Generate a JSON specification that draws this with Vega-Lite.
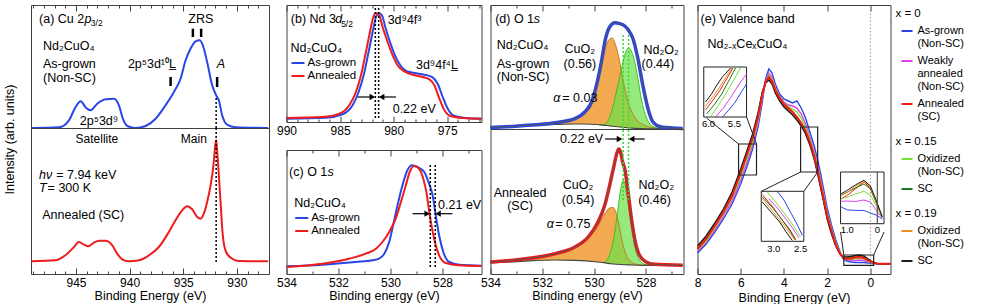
{
"$schema":"https://vega.github.io/schema/vega-lite/v6.json",
"padding":{"left":2,"top":3,"right":0,"bottom":0},
"background":"white",
"config":{
 "font":"Liberation Sans",
 "view":{"stroke":"#404040","strokeWidth":1},
 "axis":{"grid":false,"domain":false,"labelFontSize":12,"titleFontSize":12.5,"titleFontWeight":"normal","labelColor":"#000","titleColor":"#000","tickColor":"#404040","labelFlush":false,"labelOverlap":false,"labelPadding":9.5,"titlePadding":-2.5},
 "legend":{"titleFontWeight":"normal","labelColor":"#000","titleColor":"#000"},
 "text":{"color":"#000"}
},
"spacing":2.5,
"resolve":{"scale":{"x":"independent","y":"independent","color":"independent"}},
"datasets":{
 "aTop":[{"e":949.17,"i":0},{"e":946.59,"i":0.7},{"e":945.66,"i":7.7},{"e":945.04,"i":21},{"e":944.57,"i":26.7},{"e":944.05,"i":20},{"e":943.64,"i":17.7},{"e":943.02,"i":24.3},{"e":942.24,"i":28.7},{"e":941.46,"i":29.3},{"e":941.0,"i":22.7},{"e":940.63,"i":9.3},{"e":940.22,"i":2},{"e":939.44,"i":0},{"e":938.51,"i":2},{"e":937.58,"i":9.3},{"e":936.65,"i":22.7},{"e":935.87,"i":36},{"e":935.25,"i":49.3},{"e":934.78,"i":67.7},{"e":934.32,"i":79.3},{"e":933.85,"i":86.7},{"e":933.48,"i":87.7},{"e":933.17,"i":82.7},{"e":932.77,"i":66},{"e":932.30,"i":42.7},{"e":931.93,"i":32.7},{"e":931.68,"i":27.7},{"e":931.37,"i":12.7},{"e":930.91,"i":3.3},{"e":930.12,"i":0.7},{"e":927.08,"i":0}],
 "aBot":[{"e":949.17,"i":12.7},{"e":946.90,"i":13.7},{"e":945.82,"i":20.3},{"e":945.19,"i":27},{"e":944.73,"i":32},{"e":944.26,"i":29.3},{"e":943.86,"i":27.7},{"e":943.33,"i":31.3},{"e":942.86,"i":33.3},{"e":942.24,"i":33.3},{"e":941.62,"i":28.7},{"e":941.16,"i":20.3},{"e":940.69,"i":14.7},{"e":940.07,"i":12.7},{"e":939.13,"i":13.7},{"e":938.20,"i":18.7},{"e":937.27,"i":27},{"e":936.34,"i":42},{"e":935.72,"i":53.7},{"e":935.10,"i":63.7},{"e":934.63,"i":67.7},{"e":934.17,"i":64.7},{"e":933.70,"i":57},{"e":933.39,"i":55.3},{"e":933.08,"i":60.3},{"e":932.77,"i":72},{"e":932.45,"i":88.7},{"e":932.15,"i":112},{"e":932.05,"i":125},{"e":931.93,"i":134},{"e":931.80,"i":118},{"e":931.52,"i":72},{"e":931.31,"i":38.7},{"e":931.0,"i":22},{"e":930.44,"i":15.3},{"e":929.82,"i":13},{"e":927.08,"i":12.7}],
 "aTopL":[{"e":948.45,"i":109,"t":"(a) Cu 2"},{"e":948.08,"i":82,"t":"Nd₂CuO₄"},{"e":948.08,"i":64,"t":"As-grown"},{"e":948.08,"i":50,"t":"(Non-SC)"}],
 "aTopI":[{"e":944.2,"i":109,"t":"p"}],
 "aTopS":[{"e":943.62,"i":105,"t":"3/2"}],
 "aTopC":[{"e":933.36,"i":109,"t":"ZRS"},{"e":942.86,"i":7,"t":"2p⁵3d⁹"},{"e":937.92,"i":64,"t":"2p⁵3d¹⁰L̲"}],
 "aTopCI":[{"e":931.49,"i":64,"t":"A"}],
 "aTopBars":[{"e":934.10,"i":91,"i2":99.3},{"e":933.33,"i":91,"i2":99.3},{"e":936.18,"i":42,"i2":51},{"e":931.84,"i":41,"i2":51}],
 "aTopDot":[{"e":931.93,"i":0,"i2":31}],
 "aBotC":[{"e":943.05,"i":135,"t":"Satellite"},{"e":934.01,"i":135,"t":"Main"}],
 "aBotL":[{"e":946.85,"i":98.7,"t":"= 7.94 keV"},{"e":947.65,"i":85.7,"t":"= 300 K"},{"e":948.15,"i":59.3,"t":"Annealed (SC)"}],
 "aBotI":[{"e":948.45,"i":98.7,"t":"hν"},{"e":948.45,"i":85.7,"t":"T"}],
 "aBotDot":[{"e":931.93,"i":12,"i2":146}],
 "bLines":[{"s":"As-grown","e":990.0,"i":3.3},{"s":"As-grown","e":986.33,"i":4.3},{"s":"As-grown","e":984.77,"i":7.7},{"s":"As-grown","e":983.83,"i":16.7},{"s":"As-grown","e":983.27,"i":30},{"s":"As-grown","e":982.80,"i":46.7},{"s":"As-grown","e":982.34,"i":70},{"s":"As-grown","e":981.96,"i":90},{"s":"As-grown","e":981.65,"i":105},{"s":"As-grown","e":981.40,"i":109},{"s":"As-grown","e":981.09,"i":106.7},{"s":"As-grown","e":980.78,"i":95},{"s":"As-grown","e":980.34,"i":80},{"s":"As-grown","e":979.88,"i":66.7},{"s":"As-grown","e":979.38,"i":56.7},{"s":"As-grown","e":978.85,"i":51},{"s":"As-grown","e":978.07,"i":49},{"s":"As-grown","e":977.13,"i":47.3},{"s":"As-grown","e":976.36,"i":44.7},{"s":"As-grown","e":975.89,"i":38.3},{"s":"As-grown","e":975.42,"i":25},{"s":"As-grown","e":974.95,"i":13.3},{"s":"As-grown","e":974.33,"i":6},{"s":"As-grown","e":973.24,"i":4},{"s":"As-grown","e":971.8,"i":3.3},
  {"s":"Annealed","e":990.0,"i":4},{"s":"Annealed","e":986.64,"i":5},{"s":"Annealed","e":985.08,"i":8.3},{"s":"Annealed","e":984.14,"i":16.7},{"s":"Annealed","e":983.52,"i":30},{"s":"Annealed","e":983.05,"i":46.7},{"s":"Annealed","e":982.59,"i":70},{"s":"Annealed","e":982.21,"i":90},{"s":"Annealed","e":981.90,"i":105},{"s":"Annealed","e":981.65,"i":109},{"s":"Annealed","e":981.34,"i":106.7},{"s":"Annealed","e":981.03,"i":95},{"s":"Annealed","e":980.56,"i":80},{"s":"Annealed","e":980.09,"i":66.7},{"s":"Annealed","e":979.63,"i":56.7},{"s":"Annealed","e":979.0,"i":50.7},{"s":"Annealed","e":978.22,"i":47.3},{"s":"Annealed","e":977.29,"i":45},{"s":"Annealed","e":976.66,"i":42.7},{"s":"Annealed","e":976.20,"i":36.7},{"s":"Annealed","e":975.73,"i":23.3},{"s":"Annealed","e":975.26,"i":11.7},{"s":"Annealed","e":974.64,"i":5.7},{"s":"Annealed","e":973.55,"i":4},{"s":"Annealed","e":971.8,"i":3.3}],
 "bL":[{"e":989.6,"i":103.3,"t":"(b) Nd 3"},{"e":980.56,"i":102,"t":"3d⁹4f³"},{"e":977.92,"i":57,"t":"3d⁹4f⁴L̲"},{"e":980.09,"i":13,"t":"0.22 eV"}],
 "bI":[{"e":985.45,"i":103.3,"t":"d"}],
 "bS":[{"e":984.9,"i":98.5,"t":"5/2"}],
 "bDash":[{"e":981.71,"i":4,"i2":117},{"e":981.40,"i":4,"i2":117}],
 "bShaft":[{"e":983.36,"e2":981.99,"i":25},{"e":979.79,"e2":981.12,"i":25}],
 "bHeadR":[{"e":981.99,"i":25}],
 "bHeadL":[{"e":981.12,"i":25}],
 "cLines":[{"s":"As-grown","e":534.0,"i":7.7},{"s":"As-grown","e":532.62,"i":9.3},{"s":"As-grown","e":531.34,"i":12},{"s":"As-grown","e":530.69,"i":13.7},{"s":"As-grown","e":530.44,"i":15.3},{"s":"As-grown","e":530.24,"i":20.3},{"s":"As-grown","e":530.05,"i":32},{"s":"As-grown","e":529.90,"i":48.7},{"s":"As-grown","e":529.73,"i":68.7},{"s":"As-grown","e":529.54,"i":88.7},{"s":"As-grown","e":529.35,"i":103.7},{"s":"As-grown","e":529.18,"i":108.7},{"s":"As-grown","e":528.96,"i":107},{"s":"As-grown","e":528.70,"i":102},{"s":"As-grown","e":528.54,"i":92},{"s":"As-grown","e":528.38,"i":78.7},{"s":"As-grown","e":528.26,"i":58.7},{"s":"As-grown","e":528.13,"i":38.7},{"s":"As-grown","e":527.97,"i":22},{"s":"As-grown","e":527.74,"i":12},{"s":"As-grown","e":527.36,"i":9.3},{"s":"As-grown","e":526.5,"i":8.3},
  {"s":"Annealed","e":534.0,"i":7},{"s":"Annealed","e":532.62,"i":10.3},{"s":"Annealed","e":531.59,"i":15.3},{"s":"Annealed","e":530.95,"i":20.3},{"s":"Annealed","e":530.56,"i":25.3},{"s":"Annealed","e":530.31,"i":32},{"s":"Annealed","e":530.05,"i":42},{"s":"Annealed","e":529.80,"i":55.3},{"s":"Annealed","e":529.60,"i":72},{"s":"Annealed","e":529.41,"i":88.7},{"s":"Annealed","e":529.26,"i":102},{"s":"Annealed","e":529.09,"i":108},{"s":"Annealed","e":528.90,"i":105.3},{"s":"Annealed","e":528.74,"i":95.3},{"s":"Annealed","e":528.62,"i":82},{"s":"Annealed","e":528.49,"i":58.7},{"s":"Annealed","e":528.32,"i":35.3},{"s":"Annealed","e":528.13,"i":18.7},{"s":"Annealed","e":527.87,"i":11},{"s":"Annealed","e":527.36,"i":8.7},{"s":"Annealed","e":526.5,"i":8}],
 "cL":[{"e":533.9,"i":102,"t":"(c) O 1"},{"e":528.17,"i":69.3,"t":"0.21 eV"}],
 "cI":[{"e":532.42,"i":102,"t":"s"}],
 "cDash":[{"e":528.47,"i":7,"i2":110},{"e":528.28,"i":7,"i2":110}],
 "cShaft":[{"e":529.15,"e2":528.59,"i":60.3},{"e":527.62,"e2":528.17,"i":60.3}],
 "cHeadR":[{"e":528.59,"i":60.3}],
 "cHeadL":[{"e":528.17,"i":60.3}],
 "dTopEnv":[{"e":534.01,"i":1.5},{"e":532.80,"i":3.2},{"e":531.51,"i":6.3},{"e":530.74,"i":10.3},{"e":530.36,"i":17},{"e":530.10,"i":27},{"e":529.91,"i":43.7},{"e":529.72,"i":67},{"e":529.56,"i":90.3},{"e":529.40,"i":102},{"e":529.20,"i":106.3},{"e":529.01,"i":105.3},{"e":528.82,"i":103},{"e":528.67,"i":98.7},{"e":528.50,"i":90.3},{"e":528.31,"i":70.3},{"e":528.12,"i":43.7},{"e":527.92,"i":20.3},{"e":527.73,"i":7},{"e":527.41,"i":2},{"e":526.58,"i":0.5}],
 "dTopBg":[{"e":534.01,"i":1.5},{"e":532.80,"i":3},{"e":531.51,"i":4.5},{"e":530.87,"i":5},{"e":530.36,"i":5},{"e":529.91,"i":4.5},{"e":529.53,"i":3.5},{"e":529.20,"i":2.5},{"e":528.82,"i":1.5},{"e":528.44,"i":0.7},{"e":527.92,"i":0.2},{"e":526.58,"i":0}],
 "dTopCu":[{"e":534.01,"i":1.6,"b":1.5},{"e":532.80,"i":3.2,"b":3},{"e":531.51,"i":5.5,"b":4.5},{"e":530.74,"i":9.5,"b":5},{"e":530.36,"i":16,"b":5},{"e":530.10,"i":26,"b":4.8},{"e":529.91,"i":42,"b":4.5},{"e":529.72,"i":64,"b":4.1},{"e":529.56,"i":82,"b":3.6},{"e":529.40,"i":90,"b":3.1},{"e":529.30,"i":91,"b":2.8},{"e":529.20,"i":86,"b":2.5},{"e":529.05,"i":72,"b":2.1},{"e":528.88,"i":48,"b":1.6},{"e":528.69,"i":27,"b":1.2},{"e":528.44,"i":12,"b":0.7},{"e":528.05,"i":3.7,"b":0.3},{"e":527.67,"i":1,"b":0.1},{"e":527.3,"i":0.2,"b":0}],
 "dTopNd":[{"e":529.80,"i":3.9,"b":3.8},{"e":529.59,"i":4.5,"b":3.6},{"e":529.33,"i":17,"b":2.8},{"e":529.14,"i":37,"b":2.4},{"e":528.97,"i":57,"b":1.9},{"e":528.82,"i":73.7,"b":1.5},{"e":528.67,"i":81,"b":1.2},{"e":528.50,"i":73.7,"b":0.9},{"e":528.33,"i":53.7,"b":0.6},{"e":528.18,"i":30.3,"b":0.4},{"e":527.99,"i":12,"b":0.2},{"e":527.80,"i":3.7,"b":0.1},{"e":527.54,"i":1,"b":0},{"e":527.2,"i":0.1,"b":0}],
 "dTopL":[{"e":533.82,"i":110.3,"t":"(d) O 1"},{"e":533.76,"i":83.7,"t":"Nd₂CuO₄"},{"e":533.76,"i":65,"t":"As-grown"},{"e":533.76,"i":52,"t":"(Non-SC)"},{"e":531.23,"i":31,"t":"= 0.03"}],
 "dTopI":[{"e":532.33,"i":110.3,"t":"s"},{"e":531.58,"i":31,"t":"α"}],
 "dTopC":[{"e":530.55,"i":80.3,"t":"CuO₂"},{"e":530.55,"i":65.3,"t":"(0.56)"},{"e":527.41,"i":79,"t":"Nd₂O₂"},{"e":527.54,"i":65.3,"t":"(0.44)"}],
 "dTopDot":[{"e":528.88,"i":0,"i2":94},{"e":528.67,"i":0,"i2":94}],
 "dBotEnv":[{"e":534.01,"i":12},{"e":532.80,"i":14.7},{"e":531.51,"i":20.3},{"e":530.74,"i":27},{"e":530.23,"i":37},{"e":529.85,"i":52},{"e":529.59,"i":68.7},{"e":529.40,"i":88.7},{"e":529.23,"i":108.7},{"e":529.13,"i":120},{"e":529.05,"i":125},{"e":528.97,"i":121},{"e":528.90,"i":112},{"e":528.82,"i":105.3},{"e":528.69,"i":82},{"e":528.56,"i":55.3},{"e":528.41,"i":32},{"e":528.25,"i":18.7},{"e":527.99,"i":12},{"e":527.67,"i":9.7},{"e":526.58,"i":8.7}],
 "dBotBg":[{"e":534.01,"i":11},{"e":532.80,"i":12.7},{"e":531.51,"i":14},{"e":530.74,"i":13.7},{"e":529.85,"i":12},{"e":529.27,"i":10},{"e":528.56,"i":9},{"e":528.0,"i":8.7},{"e":526.58,"i":8.7}],
 "dBotCu":[{"e":534.01,"i":11.2,"b":11},{"e":532.80,"i":14,"b":12.7},{"e":531.51,"i":19.5,"b":14},{"e":530.74,"i":26,"b":13.7},{"e":530.23,"i":35,"b":13},{"e":529.85,"i":48,"b":12},{"e":529.59,"i":60,"b":11.2},{"e":529.40,"i":66,"b":10.6},{"e":529.27,"i":66.5,"b":10},{"e":529.14,"i":60.3,"b":9.8},{"e":529.01,"i":45.3,"b":9.6},{"e":528.88,"i":28.7,"b":9.3},{"e":528.69,"i":15.3,"b":9},{"e":528.44,"i":10.3,"b":8.8},{"e":528.05,"i":8.7,"b":8.7}],
 "dBotNd":[{"e":529.59,"i":11.5,"b":11.2},{"e":529.33,"i":25.3,"b":10.4},{"e":529.20,"i":42,"b":10},{"e":529.08,"i":65.3,"b":9.7},{"e":528.97,"i":85.3,"b":9.5},{"e":528.88,"i":93.7,"b":9.3},{"e":528.80,"i":88.7,"b":9.1},{"e":528.69,"i":72,"b":9},{"e":528.56,"i":48.7,"b":8.9},{"e":528.44,"i":28.7,"b":8.8},{"e":528.28,"i":15.3,"b":8.7},{"e":528.05,"i":9.7,"b":8.7},{"e":527.67,"i":8.7,"b":8.7}],
 "dBotR":[{"e":529.65,"i":135,"t":"0.22 eV"}],
 "dBotC":[{"e":532.86,"i":81,"t":"Annealed"},{"e":532.86,"i":68,"t":"(SC)"},{"e":530.62,"i":88.7,"t":"CuO₂"},{"e":530.62,"i":73.7,"t":"(0.54)"},{"e":527.6,"i":88.7,"t":"Nd₂O₂"},{"e":527.67,"i":73.7,"t":"(0.46)"}],
 "dBotL":[{"e":531.5,"i":50.3,"t":"= 0.75"}],
 "dBotI":[{"e":531.83,"i":50.3,"t":"α"}],
 "dBotDot":[{"e":528.88,"i":74,"i2":145},{"e":528.67,"i":74,"i2":145}],
 "dBotShaft":[{"e":529.58,"e2":529.02,"i":135},{"e":528.05,"e2":528.55,"i":135}],
 "dBotHeadR":[{"e":529.02,"i":135}],
 "dBotHeadL":[{"e":528.55,"i":135}],
 "eMain":[
  {"x":"0","s":"As-grown (Non-SC)","e":8,"i":21},{"x":"0","s":"As-grown (Non-SC)","e":7.6,"i":30},{"x":"0","s":"As-grown (Non-SC)","e":7.2,"i":42},{"x":"0","s":"As-grown (Non-SC)","e":6.8,"i":55},{"x":"0","s":"As-grown (Non-SC)","e":6.4,"i":70},{"x":"0","s":"As-grown (Non-SC)","e":6,"i":90},{"x":"0","s":"As-grown (Non-SC)","e":5.7,"i":108},{"x":"0","s":"As-grown (Non-SC)","e":5.45,"i":125},{"x":"0","s":"As-grown (Non-SC)","e":5.2,"i":147},{"x":"0","s":"As-grown (Non-SC)","e":5,"i":172},{"x":"0","s":"As-grown (Non-SC)","e":4.85,"i":195},{"x":"0","s":"As-grown (Non-SC)","e":4.7,"i":205},{"x":"0","s":"As-grown (Non-SC)","e":4.55,"i":201},{"x":"0","s":"As-grown (Non-SC)","e":4.4,"i":190},{"x":"0","s":"As-grown (Non-SC)","e":4.2,"i":180},{"x":"0","s":"As-grown (Non-SC)","e":4,"i":175},{"x":"0","s":"As-grown (Non-SC)","e":3.8,"i":173},{"x":"0","s":"As-grown (Non-SC)","e":3.6,"i":171},{"x":"0","s":"As-grown (Non-SC)","e":3.4,"i":173},{"x":"0","s":"As-grown (Non-SC)","e":3.2,"i":166},{"x":"0","s":"As-grown (Non-SC)","e":3,"i":156},{"x":"0","s":"As-grown (Non-SC)","e":2.8,"i":142},{"x":"0","s":"As-grown (Non-SC)","e":2.6,"i":128},{"x":"0","s":"As-grown (Non-SC)","e":2.45,"i":115},{"x":"0","s":"As-grown (Non-SC)","e":2.3,"i":100},{"x":"0","s":"As-grown (Non-SC)","e":2.15,"i":83},{"x":"0","s":"As-grown (Non-SC)","e":2,"i":66},{"x":"0","s":"As-grown (Non-SC)","e":1.8,"i":49},{"x":"0","s":"As-grown (Non-SC)","e":1.6,"i":34},{"x":"0","s":"As-grown (Non-SC)","e":1.4,"i":22},{"x":"0","s":"As-grown (Non-SC)","e":1.25,"i":15},{"x":"0","s":"As-grown (Non-SC)","e":1.1,"i":13},{"x":"0","s":"As-grown (Non-SC)","e":0.9,"i":12},{"x":"0","s":"As-grown (Non-SC)","e":0.7,"i":11.5},{"x":"0","s":"As-grown (Non-SC)","e":0.5,"i":11.5},{"x":"0","s":"As-grown (Non-SC)","e":0.3,"i":11.5},{"x":"0","s":"As-grown (Non-SC)","e":0.1,"i":11},{"x":"0","s":"As-grown (Non-SC)","e":-0.1,"i":10.5},{"x":"0","s":"As-grown (Non-SC)","e":-0.3,"i":10.3},{"x":"0","s":"As-grown (Non-SC)","e":-0.6,"i":10.3},{"x":"0","s":"As-grown (Non-SC)","e":-0.93,"i":10.3},
  {"x":"0","s":"Weakly annealed (Non-SC)","e":8,"i":23},{"x":"0","s":"Weakly annealed (Non-SC)","e":7.6,"i":32},{"x":"0","s":"Weakly annealed (Non-SC)","e":7.2,"i":44},{"x":"0","s":"Weakly annealed (Non-SC)","e":6.8,"i":58},{"x":"0","s":"Weakly annealed (Non-SC)","e":6.4,"i":73},{"x":"0","s":"Weakly annealed (Non-SC)","e":6,"i":94},{"x":"0","s":"Weakly annealed (Non-SC)","e":5.7,"i":112},{"x":"0","s":"Weakly annealed (Non-SC)","e":5.45,"i":129},{"x":"0","s":"Weakly annealed (Non-SC)","e":5.2,"i":151},{"x":"0","s":"Weakly annealed (Non-SC)","e":5,"i":175},{"x":"0","s":"Weakly annealed (Non-SC)","e":4.85,"i":193},{"x":"0","s":"Weakly annealed (Non-SC)","e":4.7,"i":201},{"x":"0","s":"Weakly annealed (Non-SC)","e":4.55,"i":197},{"x":"0","s":"Weakly annealed (Non-SC)","e":4.4,"i":187},{"x":"0","s":"Weakly annealed (Non-SC)","e":4.2,"i":178},{"x":"0","s":"Weakly annealed (Non-SC)","e":4,"i":172},{"x":"0","s":"Weakly annealed (Non-SC)","e":3.8,"i":169},{"x":"0","s":"Weakly annealed (Non-SC)","e":3.6,"i":168},{"x":"0","s":"Weakly annealed (Non-SC)","e":3.4,"i":166},{"x":"0","s":"Weakly annealed (Non-SC)","e":3.2,"i":160},{"x":"0","s":"Weakly annealed (Non-SC)","e":3,"i":150},{"x":"0","s":"Weakly annealed (Non-SC)","e":2.8,"i":137},{"x":"0","s":"Weakly annealed (Non-SC)","e":2.6,"i":123},{"x":"0","s":"Weakly annealed (Non-SC)","e":2.45,"i":110},{"x":"0","s":"Weakly annealed (Non-SC)","e":2.3,"i":95},{"x":"0","s":"Weakly annealed (Non-SC)","e":2.15,"i":79},{"x":"0","s":"Weakly annealed (Non-SC)","e":2,"i":62},{"x":"0","s":"Weakly annealed (Non-SC)","e":1.8,"i":46},{"x":"0","s":"Weakly annealed (Non-SC)","e":1.6,"i":31},{"x":"0","s":"Weakly annealed (Non-SC)","e":1.4,"i":21},{"x":"0","s":"Weakly annealed (Non-SC)","e":1.25,"i":15.5},{"x":"0","s":"Weakly annealed (Non-SC)","e":1.1,"i":14},{"x":"0","s":"Weakly annealed (Non-SC)","e":0.9,"i":13.5},{"x":"0","s":"Weakly annealed (Non-SC)","e":0.7,"i":13.5},{"x":"0","s":"Weakly annealed (Non-SC)","e":0.5,"i":14},{"x":"0","s":"Weakly annealed (Non-SC)","e":0.3,"i":13.5},{"x":"0","s":"Weakly annealed (Non-SC)","e":0.1,"i":12},{"x":"0","s":"Weakly annealed (Non-SC)","e":-0.1,"i":11},{"x":"0","s":"Weakly annealed (Non-SC)","e":-0.3,"i":10.5},{"x":"0","s":"Weakly annealed (Non-SC)","e":-0.6,"i":10.3},{"x":"0","s":"Weakly annealed (Non-SC)","e":-0.93,"i":10.3},
  {"x":"0","s":"Annealed (SC)","e":8,"i":25},{"x":"0","s":"Annealed (SC)","e":7.6,"i":35},{"x":"0","s":"Annealed (SC)","e":7.2,"i":48},{"x":"0","s":"Annealed (SC)","e":6.8,"i":62},{"x":"0","s":"Annealed (SC)","e":6.4,"i":78},{"x":"0","s":"Annealed (SC)","e":6,"i":101},{"x":"0","s":"Annealed (SC)","e":5.7,"i":120},{"x":"0","s":"Annealed (SC)","e":5.45,"i":136},{"x":"0","s":"Annealed (SC)","e":5.2,"i":157},{"x":"0","s":"Annealed (SC)","e":5,"i":180},{"x":"0","s":"Annealed (SC)","e":4.85,"i":192},{"x":"0","s":"Annealed (SC)","e":4.7,"i":197},{"x":"0","s":"Annealed (SC)","e":4.55,"i":193},{"x":"0","s":"Annealed (SC)","e":4.4,"i":184},{"x":"0","s":"Annealed (SC)","e":4.2,"i":176},{"x":"0","s":"Annealed (SC)","e":4,"i":170},{"x":"0","s":"Annealed (SC)","e":3.8,"i":166},{"x":"0","s":"Annealed (SC)","e":3.6,"i":162},{"x":"0","s":"Annealed (SC)","e":3.4,"i":157},{"x":"0","s":"Annealed (SC)","e":3.2,"i":151},{"x":"0","s":"Annealed (SC)","e":3,"i":143},{"x":"0","s":"Annealed (SC)","e":2.8,"i":132},{"x":"0","s":"Annealed (SC)","e":2.6,"i":118},{"x":"0","s":"Annealed (SC)","e":2.45,"i":104},{"x":"0","s":"Annealed (SC)","e":2.3,"i":89},{"x":"0","s":"Annealed (SC)","e":2.15,"i":74},{"x":"0","s":"Annealed (SC)","e":2,"i":58},{"x":"0","s":"Annealed (SC)","e":1.8,"i":43},{"x":"0","s":"Annealed (SC)","e":1.6,"i":29},{"x":"0","s":"Annealed (SC)","e":1.4,"i":20},{"x":"0","s":"Annealed (SC)","e":1.25,"i":16},{"x":"0","s":"Annealed (SC)","e":1.1,"i":15},{"x":"0","s":"Annealed (SC)","e":0.9,"i":15.5},{"x":"0","s":"Annealed (SC)","e":0.7,"i":16.5},{"x":"0","s":"Annealed (SC)","e":0.5,"i":17},{"x":"0","s":"Annealed (SC)","e":0.3,"i":16},{"x":"0","s":"Annealed (SC)","e":0.1,"i":13.5},{"x":"0","s":"Annealed (SC)","e":-0.1,"i":11.5},{"x":"0","s":"Annealed (SC)","e":-0.3,"i":10.5},{"x":"0","s":"Annealed (SC)","e":-0.6,"i":10.3},{"x":"0","s":"Annealed (SC)","e":-0.93,"i":10.3},
  {"x":"0.15","s":"Oxidized (Non-SC)","e":8,"i":24},{"x":"0.15","s":"Oxidized (Non-SC)","e":7.6,"i":33},{"x":"0.15","s":"Oxidized (Non-SC)","e":7.2,"i":46},{"x":"0.15","s":"Oxidized (Non-SC)","e":6.8,"i":60},{"x":"0.15","s":"Oxidized (Non-SC)","e":6.4,"i":76},{"x":"0.15","s":"Oxidized (Non-SC)","e":6,"i":97},{"x":"0.15","s":"Oxidized (Non-SC)","e":5.7,"i":116},{"x":"0.15","s":"Oxidized (Non-SC)","e":5.45,"i":132},{"x":"0.15","s":"Oxidized (Non-SC)","e":5.2,"i":154},{"x":"0.15","s":"Oxidized (Non-SC)","e":5,"i":178},{"x":"0.15","s":"Oxidized (Non-SC)","e":4.85,"i":192},{"x":"0.15","s":"Oxidized (Non-SC)","e":4.7,"i":199},{"x":"0.15","s":"Oxidized (Non-SC)","e":4.55,"i":195},{"x":"0.15","s":"Oxidized (Non-SC)","e":4.4,"i":186},{"x":"0.15","s":"Oxidized (Non-SC)","e":4.2,"i":177},{"x":"0.15","s":"Oxidized (Non-SC)","e":4,"i":171},{"x":"0.15","s":"Oxidized (Non-SC)","e":3.8,"i":167},{"x":"0.15","s":"Oxidized (Non-SC)","e":3.6,"i":165},{"x":"0.15","s":"Oxidized (Non-SC)","e":3.4,"i":162},{"x":"0.15","s":"Oxidized (Non-SC)","e":3.2,"i":156},{"x":"0.15","s":"Oxidized (Non-SC)","e":3,"i":147},{"x":"0.15","s":"Oxidized (Non-SC)","e":2.8,"i":135},{"x":"0.15","s":"Oxidized (Non-SC)","e":2.6,"i":121},{"x":"0.15","s":"Oxidized (Non-SC)","e":2.45,"i":107},{"x":"0.15","s":"Oxidized (Non-SC)","e":2.3,"i":92},{"x":"0.15","s":"Oxidized (Non-SC)","e":2.15,"i":77},{"x":"0.15","s":"Oxidized (Non-SC)","e":2,"i":61},{"x":"0.15","s":"Oxidized (Non-SC)","e":1.8,"i":45},{"x":"0.15","s":"Oxidized (Non-SC)","e":1.6,"i":31},{"x":"0.15","s":"Oxidized (Non-SC)","e":1.4,"i":21},{"x":"0.15","s":"Oxidized (Non-SC)","e":1.25,"i":16},{"x":"0.15","s":"Oxidized (Non-SC)","e":1.1,"i":14.5},{"x":"0.15","s":"Oxidized (Non-SC)","e":0.9,"i":14.5},{"x":"0.15","s":"Oxidized (Non-SC)","e":0.7,"i":15.5},{"x":"0.15","s":"Oxidized (Non-SC)","e":0.5,"i":16},{"x":"0.15","s":"Oxidized (Non-SC)","e":0.3,"i":15},{"x":"0.15","s":"Oxidized (Non-SC)","e":0.1,"i":12.5},{"x":"0.15","s":"Oxidized (Non-SC)","e":-0.1,"i":11},{"x":"0.15","s":"Oxidized (Non-SC)","e":-0.3,"i":10.4},{"x":"0.15","s":"Oxidized (Non-SC)","e":-0.6,"i":10.3},{"x":"0.15","s":"Oxidized (Non-SC)","e":-0.93,"i":10.3},
  {"x":"0.15","s":"SC","e":8,"i":26},{"x":"0.15","s":"SC","e":7.6,"i":36},{"x":"0.15","s":"SC","e":7.2,"i":49},{"x":"0.15","s":"SC","e":6.8,"i":63},{"x":"0.15","s":"SC","e":6.4,"i":80},{"x":"0.15","s":"SC","e":6,"i":103},{"x":"0.15","s":"SC","e":5.7,"i":122},{"x":"0.15","s":"SC","e":5.45,"i":138},{"x":"0.15","s":"SC","e":5.2,"i":159},{"x":"0.15","s":"SC","e":5,"i":181},{"x":"0.15","s":"SC","e":4.85,"i":192},{"x":"0.15","s":"SC","e":4.7,"i":196},{"x":"0.15","s":"SC","e":4.55,"i":192},{"x":"0.15","s":"SC","e":4.4,"i":183},{"x":"0.15","s":"SC","e":4.2,"i":175},{"x":"0.15","s":"SC","e":4,"i":169},{"x":"0.15","s":"SC","e":3.8,"i":165},{"x":"0.15","s":"SC","e":3.6,"i":161},{"x":"0.15","s":"SC","e":3.4,"i":156},{"x":"0.15","s":"SC","e":3.2,"i":150},{"x":"0.15","s":"SC","e":3,"i":142},{"x":"0.15","s":"SC","e":2.8,"i":131},{"x":"0.15","s":"SC","e":2.6,"i":117},{"x":"0.15","s":"SC","e":2.45,"i":103},{"x":"0.15","s":"SC","e":2.3,"i":88},{"x":"0.15","s":"SC","e":2.15,"i":73},{"x":"0.15","s":"SC","e":2,"i":57},{"x":"0.15","s":"SC","e":1.8,"i":42},{"x":"0.15","s":"SC","e":1.6,"i":29},{"x":"0.15","s":"SC","e":1.4,"i":20},{"x":"0.15","s":"SC","e":1.25,"i":16.5},{"x":"0.15","s":"SC","e":1.1,"i":16},{"x":"0.15","s":"SC","e":0.9,"i":16.5},{"x":"0.15","s":"SC","e":0.7,"i":17.5},{"x":"0.15","s":"SC","e":0.5,"i":18},{"x":"0.15","s":"SC","e":0.3,"i":17},{"x":"0.15","s":"SC","e":0.1,"i":14},{"x":"0.15","s":"SC","e":-0.1,"i":11.5},{"x":"0.15","s":"SC","e":-0.3,"i":10.5},{"x":"0.15","s":"SC","e":-0.6,"i":10.3},{"x":"0.15","s":"SC","e":-0.93,"i":10.3},
  {"x":"0.19","s":"Oxidized (Non-SC)","e":8,"i":27},{"x":"0.19","s":"Oxidized (Non-SC)","e":7.6,"i":37},{"x":"0.19","s":"Oxidized (Non-SC)","e":7.2,"i":50},{"x":"0.19","s":"Oxidized (Non-SC)","e":6.8,"i":64},{"x":"0.19","s":"Oxidized (Non-SC)","e":6.4,"i":81},{"x":"0.19","s":"Oxidized (Non-SC)","e":6,"i":104},{"x":"0.19","s":"Oxidized (Non-SC)","e":5.7,"i":123},{"x":"0.19","s":"Oxidized (Non-SC)","e":5.45,"i":139},{"x":"0.19","s":"Oxidized (Non-SC)","e":5.2,"i":160},{"x":"0.19","s":"Oxidized (Non-SC)","e":5,"i":181},{"x":"0.19","s":"Oxidized (Non-SC)","e":4.85,"i":191},{"x":"0.19","s":"Oxidized (Non-SC)","e":4.7,"i":195},{"x":"0.19","s":"Oxidized (Non-SC)","e":4.55,"i":191},{"x":"0.19","s":"Oxidized (Non-SC)","e":4.4,"i":182},{"x":"0.19","s":"Oxidized (Non-SC)","e":4.2,"i":174},{"x":"0.19","s":"Oxidized (Non-SC)","e":4,"i":168},{"x":"0.19","s":"Oxidized (Non-SC)","e":3.8,"i":164},{"x":"0.19","s":"Oxidized (Non-SC)","e":3.6,"i":160},{"x":"0.19","s":"Oxidized (Non-SC)","e":3.4,"i":155},{"x":"0.19","s":"Oxidized (Non-SC)","e":3.2,"i":149},{"x":"0.19","s":"Oxidized (Non-SC)","e":3,"i":141},{"x":"0.19","s":"Oxidized (Non-SC)","e":2.8,"i":130},{"x":"0.19","s":"Oxidized (Non-SC)","e":2.6,"i":116},{"x":"0.19","s":"Oxidized (Non-SC)","e":2.45,"i":102},{"x":"0.19","s":"Oxidized (Non-SC)","e":2.3,"i":87},{"x":"0.19","s":"Oxidized (Non-SC)","e":2.15,"i":72},{"x":"0.19","s":"Oxidized (Non-SC)","e":2,"i":56},{"x":"0.19","s":"Oxidized (Non-SC)","e":1.8,"i":41},{"x":"0.19","s":"Oxidized (Non-SC)","e":1.6,"i":28},{"x":"0.19","s":"Oxidized (Non-SC)","e":1.4,"i":20},{"x":"0.19","s":"Oxidized (Non-SC)","e":1.25,"i":17},{"x":"0.19","s":"Oxidized (Non-SC)","e":1.1,"i":16.5},{"x":"0.19","s":"Oxidized (Non-SC)","e":0.9,"i":17},{"x":"0.19","s":"Oxidized (Non-SC)","e":0.7,"i":18},{"x":"0.19","s":"Oxidized (Non-SC)","e":0.5,"i":18.5},{"x":"0.19","s":"Oxidized (Non-SC)","e":0.3,"i":17.5},{"x":"0.19","s":"Oxidized (Non-SC)","e":0.1,"i":14.5},{"x":"0.19","s":"Oxidized (Non-SC)","e":-0.1,"i":11.5},{"x":"0.19","s":"Oxidized (Non-SC)","e":-0.3,"i":10.5},{"x":"0.19","s":"Oxidized (Non-SC)","e":-0.6,"i":10.3},{"x":"0.19","s":"Oxidized (Non-SC)","e":-0.93,"i":10.3},
  {"x":"0.19","s":"SC","e":8,"i":28},{"x":"0.19","s":"SC","e":7.6,"i":38},{"x":"0.19","s":"SC","e":7.2,"i":51},{"x":"0.19","s":"SC","e":6.8,"i":65},{"x":"0.19","s":"SC","e":6.4,"i":82},{"x":"0.19","s":"SC","e":6,"i":105},{"x":"0.19","s":"SC","e":5.7,"i":124},{"x":"0.19","s":"SC","e":5.45,"i":140},{"x":"0.19","s":"SC","e":5.2,"i":161},{"x":"0.19","s":"SC","e":5,"i":182},{"x":"0.19","s":"SC","e":4.85,"i":191},{"x":"0.19","s":"SC","e":4.7,"i":194},{"x":"0.19","s":"SC","e":4.55,"i":190},{"x":"0.19","s":"SC","e":4.4,"i":181},{"x":"0.19","s":"SC","e":4.2,"i":173},{"x":"0.19","s":"SC","e":4,"i":167},{"x":"0.19","s":"SC","e":3.8,"i":163},{"x":"0.19","s":"SC","e":3.6,"i":159},{"x":"0.19","s":"SC","e":3.4,"i":154},{"x":"0.19","s":"SC","e":3.2,"i":148},{"x":"0.19","s":"SC","e":3,"i":140},{"x":"0.19","s":"SC","e":2.8,"i":129},{"x":"0.19","s":"SC","e":2.6,"i":115},{"x":"0.19","s":"SC","e":2.45,"i":101},{"x":"0.19","s":"SC","e":2.3,"i":86},{"x":"0.19","s":"SC","e":2.15,"i":71},{"x":"0.19","s":"SC","e":2,"i":55},{"x":"0.19","s":"SC","e":1.8,"i":40},{"x":"0.19","s":"SC","e":1.6,"i":28},{"x":"0.19","s":"SC","e":1.4,"i":20},{"x":"0.19","s":"SC","e":1.25,"i":17},{"x":"0.19","s":"SC","e":1.1,"i":17},{"x":"0.19","s":"SC","e":0.9,"i":17.5},{"x":"0.19","s":"SC","e":0.7,"i":18.5},{"x":"0.19","s":"SC","e":0.5,"i":19},{"x":"0.19","s":"SC","e":0.3,"i":18},{"x":"0.19","s":"SC","e":0.1,"i":15},{"x":"0.19","s":"SC","e":-0.1,"i":12},{"x":"0.19","s":"SC","e":-0.3,"i":10.5},{"x":"0.19","s":"SC","e":-0.6,"i":10.3},{"x":"0.19","s":"SC","e":-0.93,"i":10.3}
 ],
 "eInset":[
  {"x":"0","s":"As-grown (Non-SC)","n":"1","e":6.84,"i":157},{"x":"0","s":"As-grown (Non-SC)","n":"1","e":6.55,"i":164},{"x":"0","s":"As-grown (Non-SC)","n":"1","e":6.25,"i":172},{"x":"0","s":"As-grown (Non-SC)","n":"1","e":6.0,"i":181},{"x":"0","s":"As-grown (Non-SC)","n":"1","e":5.73,"i":190},
  {"x":"0","s":"As-grown (Non-SC)","n":"2","e":4.31,"i":82.7},{"x":"0","s":"As-grown (Non-SC)","n":"2","e":4.0,"i":74},{"x":"0","s":"As-grown (Non-SC)","n":"2","e":3.7,"i":62},{"x":"0","s":"As-grown (Non-SC)","n":"2","e":3.4,"i":50},{"x":"0","s":"As-grown (Non-SC)","n":"2","e":3.15,"i":38.7},
  {"x":"0","s":"As-grown (Non-SC)","n":"3","e":1.35,"i":67},{"x":"0","s":"As-grown (Non-SC)","n":"3","e":1.05,"i":64},{"x":"0","s":"As-grown (Non-SC)","n":"3","e":0.7,"i":63.7},{"x":"0","s":"As-grown (Non-SC)","n":"3","e":0.3,"i":63.5},{"x":"0","s":"As-grown (Non-SC)","n":"3","e":0.0,"i":61},{"x":"0","s":"As-grown (Non-SC)","n":"3","e":-0.3,"i":58.7},{"x":"0","s":"As-grown (Non-SC)","n":"3","e":-0.55,"i":55},
  {"x":"0","s":"Weakly annealed (Non-SC)","n":"1","e":7.17,"i":157},{"x":"0","s":"Weakly annealed (Non-SC)","n":"1","e":6.8,"i":166},{"x":"0","s":"Weakly annealed (Non-SC)","n":"1","e":6.45,"i":177},{"x":"0","s":"Weakly annealed (Non-SC)","n":"1","e":6.1,"i":189},{"x":"0","s":"Weakly annealed (Non-SC)","n":"1","e":5.73,"i":200},
  {"x":"0","s":"Weakly annealed (Non-SC)","n":"2","e":4.7,"i":75.3},{"x":"0","s":"Weakly annealed (Non-SC)","n":"2","e":4.3,"i":66},{"x":"0","s":"Weakly annealed (Non-SC)","n":"2","e":3.95,"i":56},{"x":"0","s":"Weakly annealed (Non-SC)","n":"2","e":3.6,"i":46},{"x":"0","s":"Weakly annealed (Non-SC)","n":"2","e":3.31,"i":36},
  {"x":"0","s":"Weakly annealed (Non-SC)","n":"3","e":1.35,"i":72.7},{"x":"0","s":"Weakly annealed (Non-SC)","n":"3","e":1.05,"i":73},{"x":"0","s":"Weakly annealed (Non-SC)","n":"3","e":0.7,"i":72.5},{"x":"0","s":"Weakly annealed (Non-SC)","n":"3","e":0.3,"i":74},{"x":"0","s":"Weakly annealed (Non-SC)","n":"3","e":0.0,"i":72},{"x":"0","s":"Weakly annealed (Non-SC)","n":"3","e":-0.3,"i":63},{"x":"0","s":"Weakly annealed (Non-SC)","n":"3","e":-0.55,"i":56},
  {"x":"0","s":"Annealed (SC)","n":"1","e":7.63,"i":164},{"x":"0","s":"Annealed (SC)","n":"1","e":7.28,"i":174},{"x":"0","s":"Annealed (SC)","n":"1","e":6.98,"i":183},{"x":"0","s":"Annealed (SC)","n":"1","e":6.68,"i":194},{"x":"0","s":"Annealed (SC)","n":"1","e":6.36,"i":206},
  {"x":"0","s":"Annealed (SC)","n":"2","e":5.0,"i":79.3},{"x":"0","s":"Annealed (SC)","n":"2","e":4.55,"i":68},{"x":"0","s":"Annealed (SC)","n":"2","e":4.15,"i":56},{"x":"0","s":"Annealed (SC)","n":"2","e":3.75,"i":44},{"x":"0","s":"Annealed (SC)","n":"2","e":3.46,"i":34},
  {"x":"0","s":"Annealed (SC)","n":"3","e":1.35,"i":75.3},{"x":"0","s":"Annealed (SC)","n":"3","e":1.05,"i":79},{"x":"0","s":"Annealed (SC)","n":"3","e":0.7,"i":85},{"x":"0","s":"Annealed (SC)","n":"3","e":0.3,"i":92},{"x":"0","s":"Annealed (SC)","n":"3","e":0.0,"i":86},{"x":"0","s":"Annealed (SC)","n":"3","e":-0.3,"i":70},{"x":"0","s":"Annealed (SC)","n":"3","e":-0.55,"i":57},
  {"x":"0.15","s":"Oxidized (Non-SC)","n":"1","e":7.4,"i":157},{"x":"0.15","s":"Oxidized (Non-SC)","n":"1","e":7.05,"i":168},{"x":"0.15","s":"Oxidized (Non-SC)","n":"1","e":6.7,"i":180},{"x":"0.15","s":"Oxidized (Non-SC)","n":"1","e":6.35,"i":193},{"x":"0.15","s":"Oxidized (Non-SC)","n":"1","e":6.01,"i":206},
  {"x":"0.15","s":"Oxidized (Non-SC)","n":"2","e":4.77,"i":82},{"x":"0.15","s":"Oxidized (Non-SC)","n":"2","e":4.35,"i":71},{"x":"0.15","s":"Oxidized (Non-SC)","n":"2","e":3.95,"i":60},{"x":"0.15","s":"Oxidized (Non-SC)","n":"2","e":3.55,"i":48},{"x":"0.15","s":"Oxidized (Non-SC)","n":"2","e":3.23,"i":37},
  {"x":"0.15","s":"Oxidized (Non-SC)","n":"3","e":1.35,"i":75.3},{"x":"0.15","s":"Oxidized (Non-SC)","n":"3","e":1.05,"i":77},{"x":"0.15","s":"Oxidized (Non-SC)","n":"3","e":0.7,"i":80},{"x":"0.15","s":"Oxidized (Non-SC)","n":"3","e":0.3,"i":82.7},{"x":"0.15","s":"Oxidized (Non-SC)","n":"3","e":0.0,"i":79},{"x":"0.15","s":"Oxidized (Non-SC)","n":"3","e":-0.3,"i":67},{"x":"0.15","s":"Oxidized (Non-SC)","n":"3","e":-0.55,"i":57},
  {"x":"0.15","s":"SC","n":"1","e":7.58,"i":160},{"x":"0.15","s":"SC","n":"1","e":7.2,"i":170},{"x":"0.15","s":"SC","n":"1","e":6.88,"i":180},{"x":"0.15","s":"SC","n":"1","e":6.56,"i":193},{"x":"0.15","s":"SC","n":"1","e":6.24,"i":206},
  {"x":"0.15","s":"SC","n":"2","e":5.0,"i":77},{"x":"0.15","s":"SC","n":"2","e":4.55,"i":67},{"x":"0.15","s":"SC","n":"2","e":4.15,"i":56},{"x":"0.15","s":"SC","n":"2","e":3.75,"i":45},{"x":"0.15","s":"SC","n":"2","e":3.46,"i":35},
  {"x":"0.15","s":"SC","n":"3","e":1.35,"i":79},{"x":"0.15","s":"SC","n":"3","e":1.05,"i":82},{"x":"0.15","s":"SC","n":"3","e":0.7,"i":86},{"x":"0.15","s":"SC","n":"3","e":0.3,"i":90},{"x":"0.15","s":"SC","n":"3","e":0.0,"i":85},{"x":"0.15","s":"SC","n":"3","e":-0.3,"i":70},{"x":"0.15","s":"SC","n":"3","e":-0.55,"i":57},
  {"x":"0.19","s":"Oxidized (Non-SC)","n":"1","e":7.63,"i":168},{"x":"0.19","s":"Oxidized (Non-SC)","n":"1","e":7.3,"i":177},{"x":"0.19","s":"Oxidized (Non-SC)","n":"1","e":7.0,"i":186},{"x":"0.19","s":"Oxidized (Non-SC)","n":"1","e":6.72,"i":196},{"x":"0.19","s":"Oxidized (Non-SC)","n":"1","e":6.4,"i":206},
  {"x":"0.19","s":"Oxidized (Non-SC)","n":"2","e":5.0,"i":75.3},{"x":"0.19","s":"Oxidized (Non-SC)","n":"2","e":4.6,"i":65},{"x":"0.19","s":"Oxidized (Non-SC)","n":"2","e":4.2,"i":54},{"x":"0.19","s":"Oxidized (Non-SC)","n":"2","e":3.8,"i":43},{"x":"0.19","s":"Oxidized (Non-SC)","n":"2","e":3.5,"i":34},
  {"x":"0.19","s":"Oxidized (Non-SC)","n":"3","e":1.35,"i":78.5},{"x":"0.19","s":"Oxidized (Non-SC)","n":"3","e":1.05,"i":82},{"x":"0.19","s":"Oxidized (Non-SC)","n":"3","e":0.7,"i":87.5},{"x":"0.19","s":"Oxidized (Non-SC)","n":"3","e":0.3,"i":92.5},{"x":"0.19","s":"Oxidized (Non-SC)","n":"3","e":0.0,"i":87},{"x":"0.19","s":"Oxidized (Non-SC)","n":"3","e":-0.3,"i":71},{"x":"0.19","s":"Oxidized (Non-SC)","n":"3","e":-0.55,"i":57},
  {"x":"0.19","s":"SC","n":"1","e":7.63,"i":172},{"x":"0.19","s":"SC","n":"1","e":7.35,"i":180},{"x":"0.19","s":"SC","n":"1","e":7.1,"i":189},{"x":"0.19","s":"SC","n":"1","e":6.85,"i":197},{"x":"0.19","s":"SC","n":"1","e":6.47,"i":206},
  {"x":"0.19","s":"SC","n":"2","e":5.0,"i":72},{"x":"0.19","s":"SC","n":"2","e":4.6,"i":62},{"x":"0.19","s":"SC","n":"2","e":4.2,"i":52},{"x":"0.19","s":"SC","n":"2","e":3.9,"i":42},{"x":"0.19","s":"SC","n":"2","e":3.62,"i":33.7},
  {"x":"0.19","s":"SC","n":"3","e":1.35,"i":80.3},{"x":"0.19","s":"SC","n":"3","e":1.05,"i":84},{"x":"0.19","s":"SC","n":"3","e":0.7,"i":89},{"x":"0.19","s":"SC","n":"3","e":0.3,"i":93.7},{"x":"0.19","s":"SC","n":"3","e":0.0,"i":88},{"x":"0.19","s":"SC","n":"3","e":-0.3,"i":72},{"x":"0.19","s":"SC","n":"3","e":-0.55,"i":57}
 ],
 "eL":[{"e":7.86,"i":255.3,"t":"(e) Valence band"},{"e":7.54,"i":230,"t":"Nd₂₋ₓCeₓCuO₄"}],
 "eTick":[{"e":7.49,"i":150,"t":"6.0"},{"e":6.29,"i":150,"t":"5.5"},{"e":4.47,"i":25.3,"t":"3.0"},{"e":3.23,"i":25.3,"t":"2.5"},{"e":1.07,"i":44,"t":"1.0"},{"e":-0.32,"i":44,"t":"0"}],
 "eInsetRect":[{"e":7.71,"e2":5.73,"i":157,"i2":207},{"e":5.05,"e2":3.08,"i":32.7,"i2":82.7},{"e":1.38,"e2":-0.63,"i":50.3,"i2":102}],
 "eBox":[{"e":6.10,"e2":5.27,"i":99,"i2":130},{"e":3.23,"e2":2.44,"i":102,"i2":147},{"e":1.23,"e2":-0.15,"i":8.7,"i2":19}],
 "eConn":[{"e":7.58,"i":156,"e2":6.10,"i2":130},{"e":5.73,"i":157,"e2":5.27,"i2":130},{"e":5.05,"i":82.7,"e2":3.23,"i2":102},{"e":3.08,"i":82.7,"e2":2.44,"i2":102},{"e":1.38,"i":42,"e2":1.23,"i2":19},{"e":-0.63,"i":42,"e2":-0.15,"i2":19}],
 "eZero":[{"e":0,"i":0,"i2":269}],
 "eInsetZero":[{"e":-0.32,"i":50.3,"i2":102}]
},
"hconcat":[
 {"vconcat":[
  {"width":238,"height":123,"resolve":{"axis":{"x":"independent","y":"independent"}},"layer":[
   {"data":{"name":"aTop"},"mark":{"type":"line","color":"#2a46e6","strokeWidth":2,"interpolate":"monotone"},
    "encoding":{"x":{"field":"e","type":"quantitative","scale":{"domain":[927,949.2],"reverse":true,"nice":false,"zero":false},"axis":{"orient":"top","title":null,"labels":false,"values":[928,929,930,931,932,933,934,935,936,937,938,939,940,941,942,943,944,945,946,947,948,949],"tickSize":{"condition":{"test":"datum.value % 5 === 0","value":-6},"value":-3}}},
     "y":{"field":"i","type":"quantitative","scale":{"domain":[0,123],"nice":false,"zero":false},"axis":{"title":"Intensity (arb. units)","ticks":false,"labels":false,"titleX":-15,"titleY":134,"titlePadding":0}}}},
   {"data":{"name":"aTopDot"},"mark":{"type":"rule","color":"#000","strokeWidth":1.5,"strokeDash":[2,2]},"encoding":{"x":{"field":"e","type":"quantitative","scale":{"domain":[927,949.2],"reverse":true,"nice":false,"zero":false},"axis":null},"y":{"field":"i","type":"quantitative","scale":{"domain":[0,123],"nice":false,"zero":false},"axis":null},"y2":{"field":"i2"}}},
   {"data":{"name":"aTopBars"},"mark":{"type":"rule","color":"#000","strokeWidth":2.5},"encoding":{"x":{"field":"e","type":"quantitative","scale":{"domain":[927,949.2],"reverse":true,"nice":false,"zero":false},"axis":null},"y":{"field":"i","type":"quantitative","scale":{"domain":[0,123],"nice":false,"zero":false},"axis":null},"y2":{"field":"i2"}}},
   {"data":{"name":"aTopL"},"mark":{"type":"text","align":"left","baseline":"middle","fontSize":12.5},"encoding":{"x":{"field":"e","type":"quantitative","scale":{"domain":[927,949.2],"reverse":true,"nice":false,"zero":false},"axis":null},"y":{"field":"i","type":"quantitative","scale":{"domain":[0,123],"nice":false,"zero":false},"axis":null},"text":{"field":"t"}}},
   {"data":{"name":"aTopI"},"mark":{"type":"text","align":"left","baseline":"middle","fontSize":12.5,"fontStyle":"italic"},"encoding":{"x":{"field":"e","type":"quantitative","scale":{"domain":[927,949.2],"reverse":true,"nice":false,"zero":false},"axis":null},"y":{"field":"i","type":"quantitative","scale":{"domain":[0,123],"nice":false,"zero":false},"axis":null},"text":{"field":"t"}}},
   {"data":{"name":"aTopS"},"mark":{"type":"text","align":"left","baseline":"middle","fontSize":8.5},"encoding":{"x":{"field":"e","type":"quantitative","scale":{"domain":[927,949.2],"reverse":true,"nice":false,"zero":false},"axis":null},"y":{"field":"i","type":"quantitative","scale":{"domain":[0,123],"nice":false,"zero":false},"axis":null},"text":{"field":"t"}}},
   {"data":{"name":"aTopC"},"mark":{"type":"text","align":"center","baseline":"middle","fontSize":12.5},"encoding":{"x":{"field":"e","type":"quantitative","scale":{"domain":[927,949.2],"reverse":true,"nice":false,"zero":false},"axis":null},"y":{"field":"i","type":"quantitative","scale":{"domain":[0,123],"nice":false,"zero":false},"axis":null},"text":{"field":"t"}}},
   {"data":{"name":"aTopCI"},"mark":{"type":"text","align":"center","baseline":"middle","fontSize":12.5,"fontStyle":"italic"},"encoding":{"x":{"field":"e","type":"quantitative","scale":{"domain":[927,949.2],"reverse":true,"nice":false,"zero":false},"axis":null},"y":{"field":"i","type":"quantitative","scale":{"domain":[0,123],"nice":false,"zero":false},"axis":null},"text":{"field":"t"}}}
  ]},
  {"width":238,"height":146,"resolve":{"axis":{"x":"independent","y":"independent"}},"layer":[
   {"data":{"name":"aBot"},"mark":{"type":"line","color":"#ee1c1c","strokeWidth":2,"interpolate":"monotone"},
    "encoding":{"x":{"field":"e","type":"quantitative","scale":{"domain":[927,949.2],"reverse":true,"nice":false,"zero":false},"axis":{"orient":"bottom","title":"Binding Energy (eV)","format":"d","values":[928,929,930,931,932,933,934,935,936,937,938,939,940,941,942,943,944,945,946,947,948,949],"labelExpr":"datum.value % 5 === 0 ? datum.label : ''","tickSize":{"condition":{"test":"datum.value % 5 === 0","value":-6},"value":-3}}},
     "y":{"field":"i","type":"quantitative","scale":{"domain":[0,146],"nice":false,"zero":false},"axis":null}}},
   {"data":{"name":"aBotDot"},"mark":{"type":"rule","color":"#000","strokeWidth":1.5,"strokeDash":[2,2]},"encoding":{"x":{"field":"e","type":"quantitative","scale":{"domain":[927,949.2],"reverse":true,"nice":false,"zero":false},"axis":null},"y":{"field":"i","type":"quantitative","scale":{"domain":[0,146],"nice":false,"zero":false},"axis":null},"y2":{"field":"i2"}}},
   {"data":{"name":"aBotC"},"mark":{"type":"text","align":"center","baseline":"middle","fontSize":12},"encoding":{"x":{"field":"e","type":"quantitative","scale":{"domain":[927,949.2],"reverse":true,"nice":false,"zero":false},"axis":null},"y":{"field":"i","type":"quantitative","scale":{"domain":[0,146],"nice":false,"zero":false},"axis":null},"text":{"field":"t"}}},
   {"data":{"name":"aBotL"},"mark":{"type":"text","align":"left","baseline":"middle","fontSize":12.5},"encoding":{"x":{"field":"e","type":"quantitative","scale":{"domain":[927,949.2],"reverse":true,"nice":false,"zero":false},"axis":null},"y":{"field":"i","type":"quantitative","scale":{"domain":[0,146],"nice":false,"zero":false},"axis":null},"text":{"field":"t"}}},
   {"data":{"name":"aBotI"},"mark":{"type":"text","align":"left","baseline":"middle","fontSize":12.5,"fontStyle":"italic"},"encoding":{"x":{"field":"e","type":"quantitative","scale":{"domain":[927,949.2],"reverse":true,"nice":false,"zero":false},"axis":null},"y":{"field":"i","type":"quantitative","scale":{"domain":[0,146],"nice":false,"zero":false},"axis":null},"text":{"field":"t"}}}
  ]}
 ],"spacing":0,"bounds":"flush","resolve":{"scale":{"x":"independent","y":"independent"}}},
 {"hconcat":[
 {"vconcat":[
  {"width":195,"height":117,"resolve":{"axis":{"x":"independent"}},"layer":[
   {"data":{"name":"bLines"},"mark":{"type":"line","strokeWidth":2,"interpolate":"monotone"},
    "encoding":{"x":{"field":"e","type":"quantitative","scale":{"domain":[971.8,990],"reverse":true,"nice":false,"zero":false},"axis":{"orient":"bottom","title":null,"format":"d","values":[972,973,974,975,976,977,978,979,980,981,982,983,984,985,986,987,988,989,990],"labelExpr":"datum.value % 5 === 0 ? datum.label : ''","tickSize":{"condition":{"test":"datum.value % 5 === 0","value":-6},"value":-3}}},
     "y":{"field":"i","type":"quantitative","scale":{"domain":[0,117],"nice":false,"zero":false},"axis":null},
     "color":{"field":"s","type":"nominal","scale":{"domain":["As-grown","Annealed"],"range":["#2a46e6","#ee1c1c"]},"legend":{"orient":"none","legendX":4,"legendY":37,"title":"Nd₂CuO₄","titleFontSize":12.5,"titleFontWeight":"normal","titlePadding":1,"labelFontSize":11.5,"symbolType":"stroke","symbolSize":169,"symbolStrokeWidth":2,"labelOffset":2,"rowPadding":0,"padding":0}}}},
   {"data":{"name":"bDash"},"mark":{"type":"rule","color":"#000","strokeWidth":1.5,"strokeDash":[2,2]},"encoding":{"x":{"field":"e","type":"quantitative","scale":{"domain":[971.8,990],"reverse":true,"nice":false,"zero":false},"axis":{"orient":"top","title":null,"labels":false,"values":[972,973,974,975,976,977,978,979,980,981,982,983,984,985,986,987,988,989,990],"tickSize":{"condition":{"test":"datum.value % 5 === 0","value":-6},"value":-3}}},"y":{"field":"i","type":"quantitative","scale":{"domain":[0,117],"nice":false,"zero":false},"axis":null},"y2":{"field":"i2"}}},
   {"data":{"name":"bShaft"},"mark":{"type":"rule","color":"#000","strokeWidth":1.2},"encoding":{"x":{"field":"e","type":"quantitative","scale":{"domain":[971.8,990],"reverse":true,"nice":false,"zero":false},"axis":null},"x2":{"field":"e2"},"y":{"field":"i","type":"quantitative","scale":{"domain":[0,117],"nice":false,"zero":false},"axis":null}}},
   {"data":{"name":"bHeadR"},"mark":{"type":"point","shape":"triangle-right","filled":true,"size":40,"color":"#000","opacity":1},"encoding":{"x":{"field":"e","type":"quantitative","scale":{"domain":[971.8,990],"reverse":true,"nice":false,"zero":false},"axis":null},"y":{"field":"i","type":"quantitative","scale":{"domain":[0,117],"nice":false,"zero":false},"axis":null}}},
   {"data":{"name":"bHeadL"},"mark":{"type":"point","shape":"triangle-left","filled":true,"size":40,"color":"#000","opacity":1},"encoding":{"x":{"field":"e","type":"quantitative","scale":{"domain":[971.8,990],"reverse":true,"nice":false,"zero":false},"axis":null},"y":{"field":"i","type":"quantitative","scale":{"domain":[0,117],"nice":false,"zero":false},"axis":null}}},
   {"data":{"name":"bL"},"mark":{"type":"text","align":"left","baseline":"middle","fontSize":12.5},"encoding":{"x":{"field":"e","type":"quantitative","scale":{"domain":[971.8,990],"reverse":true,"nice":false,"zero":false},"axis":null},"y":{"field":"i","type":"quantitative","scale":{"domain":[0,117],"nice":false,"zero":false},"axis":null},"text":{"field":"t"}}},
   {"data":{"name":"bI"},"mark":{"type":"text","align":"left","baseline":"middle","fontSize":12.5,"fontStyle":"italic"},"encoding":{"x":{"field":"e","type":"quantitative","scale":{"domain":[971.8,990],"reverse":true,"nice":false,"zero":false},"axis":null},"y":{"field":"i","type":"quantitative","scale":{"domain":[0,117],"nice":false,"zero":false},"axis":null},"text":{"field":"t"}}},
   {"data":{"name":"bS"},"mark":{"type":"text","align":"left","baseline":"middle","fontSize":8.5},"encoding":{"x":{"field":"e","type":"quantitative","scale":{"domain":[971.8,990],"reverse":true,"nice":false,"zero":false},"axis":null},"y":{"field":"i","type":"quantitative","scale":{"domain":[0,117],"nice":false,"zero":false},"axis":null},"text":{"field":"t"}}}
  ]},
  {"width":195,"height":124,"resolve":{"axis":{"x":"independent"}},"layer":[
   {"data":{"name":"cLines"},"mark":{"type":"line","strokeWidth":2,"interpolate":"monotone"},
    "encoding":{"x":{"field":"e","type":"quantitative","scale":{"domain":[526.5,534],"reverse":true,"nice":false,"zero":false},"axis":{"orient":"bottom","title":"Binding energy (eV)","format":"d","values":[527,528,529,530,531,532,533,534],"labelExpr":"datum.value % 2 === 0 ? datum.label : ''","tickSize":{"condition":{"test":"datum.value % 2 === 0","value":-6},"value":-3}}},
     "y":{"field":"i","type":"quantitative","scale":{"domain":[0,124],"nice":false,"zero":false},"axis":null},
     "color":{"field":"s","type":"nominal","scale":{"domain":["As-grown","Annealed"],"range":["#2a46e6","#ee1c1c"]},"legend":{"orient":"none","legendX":7.7,"legendY":47,"title":"Nd₂CuO₄","titleFontSize":12.5,"titleFontWeight":"normal","titlePadding":1,"labelFontSize":11.5,"symbolType":"stroke","symbolSize":169,"symbolStrokeWidth":2,"labelOffset":2,"rowPadding":0,"padding":0}}}},
   {"data":{"name":"cDash"},"mark":{"type":"rule","color":"#000","strokeWidth":1.5,"strokeDash":[2,2]},"encoding":{"x":{"field":"e","type":"quantitative","scale":{"domain":[526.5,534],"reverse":true,"nice":false,"zero":false},"axis":{"orient":"top","title":null,"labels":false,"values":[527,528,529,530,531,532,533,534],"tickSize":{"condition":{"test":"datum.value % 2 === 0","value":-6},"value":-3}}},"y":{"field":"i","type":"quantitative","scale":{"domain":[0,124],"nice":false,"zero":false},"axis":null},"y2":{"field":"i2"}}},
   {"data":{"name":"cShaft"},"mark":{"type":"rule","color":"#000","strokeWidth":1.2},"encoding":{"x":{"field":"e","type":"quantitative","scale":{"domain":[526.5,534],"reverse":true,"nice":false,"zero":false},"axis":null},"x2":{"field":"e2"},"y":{"field":"i","type":"quantitative","scale":{"domain":[0,124],"nice":false,"zero":false},"axis":null}}},
   {"data":{"name":"cHeadR"},"mark":{"type":"point","shape":"triangle-right","filled":true,"size":40,"color":"#000","opacity":1},"encoding":{"x":{"field":"e","type":"quantitative","scale":{"domain":[526.5,534],"reverse":true,"nice":false,"zero":false},"axis":null},"y":{"field":"i","type":"quantitative","scale":{"domain":[0,124],"nice":false,"zero":false},"axis":null}}},
   {"data":{"name":"cHeadL"},"mark":{"type":"point","shape":"triangle-left","filled":true,"size":40,"color":"#000","opacity":1},"encoding":{"x":{"field":"e","type":"quantitative","scale":{"domain":[526.5,534],"reverse":true,"nice":false,"zero":false},"axis":null},"y":{"field":"i","type":"quantitative","scale":{"domain":[0,124],"nice":false,"zero":false},"axis":null}}},
   {"data":{"name":"cL"},"mark":{"type":"text","align":"left","baseline":"middle","fontSize":12.5},"encoding":{"x":{"field":"e","type":"quantitative","scale":{"domain":[526.5,534],"reverse":true,"nice":false,"zero":false},"axis":null},"y":{"field":"i","type":"quantitative","scale":{"domain":[0,124],"nice":false,"zero":false},"axis":null},"text":{"field":"t"}}},
   {"data":{"name":"cI"},"mark":{"type":"text","align":"left","baseline":"middle","fontSize":12.5,"fontStyle":"italic"},"encoding":{"x":{"field":"e","type":"quantitative","scale":{"domain":[526.5,534],"reverse":true,"nice":false,"zero":false},"axis":null},"y":{"field":"i","type":"quantitative","scale":{"domain":[0,124],"nice":false,"zero":false},"axis":null},"text":{"field":"t"}}}
  ]}
 ],"spacing":28,"bounds":"flush","resolve":{"scale":{"x":"independent","y":"independent","color":"independent"}}},
 {"hconcat":[
 {"vconcat":[
  {"width":193,"height":124,"resolve":{"axis":{"x":"independent","y":"independent"}},"layer":[
   {"data":{"name":"dTopCu"},"mark":{"type":"area","color":"#f2a94f","opacity":1,"interpolate":"monotone"},
    "encoding":{"x":{"field":"e","type":"quantitative","scale":{"domain":[526.55,534],"reverse":true,"nice":false,"zero":false},"axis":{"orient":"top","title":null,"labels":false,"values":[527,528,529,530,531,532,533,534],"tickSize":{"condition":{"test":"datum.value % 2 === 0","value":-6},"value":-3}}},
     "y":{"field":"i","type":"quantitative","scale":{"domain":[0,124],"nice":false,"zero":false},"axis":null},"y2":{"field":"b"}}},
   {"data":{"name":"dTopNd"},"mark":{"type":"area","color":"#6ee04a","opacity":0.72,"interpolate":"monotone"},"encoding":{"x":{"field":"e","type":"quantitative","scale":{"domain":[526.55,534],"reverse":true,"nice":false,"zero":false},"axis":null},"y":{"field":"i","type":"quantitative","scale":{"domain":[0,124],"nice":false,"zero":false},"axis":null},"y2":{"field":"b"}}},
   {"data":{"name":"dTopCu"},"mark":{"type":"line","color":"#c27a2c","strokeWidth":1,"interpolate":"monotone"},"encoding":{"x":{"field":"e","type":"quantitative","scale":{"domain":[526.55,534],"reverse":true,"nice":false,"zero":false},"axis":null},"y":{"field":"i","type":"quantitative","scale":{"domain":[0,124],"nice":false,"zero":false},"axis":null}}},
   {"data":{"name":"dTopNd"},"mark":{"type":"line","color":"#3fbf22","strokeWidth":1,"interpolate":"monotone"},"encoding":{"x":{"field":"e","type":"quantitative","scale":{"domain":[526.55,534],"reverse":true,"nice":false,"zero":false},"axis":null},"y":{"field":"i","type":"quantitative","scale":{"domain":[0,124],"nice":false,"zero":false},"axis":null}}},
   {"data":{"name":"dTopBg"},"mark":{"type":"line","color":"#444","strokeWidth":1.2,"interpolate":"monotone"},"encoding":{"x":{"field":"e","type":"quantitative","scale":{"domain":[526.55,534],"reverse":true,"nice":false,"zero":false},"axis":null},"y":{"field":"i","type":"quantitative","scale":{"domain":[0,124],"nice":false,"zero":false},"axis":null}}},
   {"data":{"name":"dTopEnv"},"mark":{"type":"line","color":"#2a46e6","strokeWidth":3.5,"interpolate":"monotone"},"encoding":{"x":{"field":"e","type":"quantitative","scale":{"domain":[526.55,534],"reverse":true,"nice":false,"zero":false},"axis":null},"y":{"field":"i","type":"quantitative","scale":{"domain":[0,124],"nice":false,"zero":false},"axis":null}}},
   {"data":{"name":"dTopEnv"},"mark":{"type":"line","color":"#555","strokeWidth":1,"interpolate":"monotone"},"encoding":{"x":{"field":"e","type":"quantitative","scale":{"domain":[526.55,534],"reverse":true,"nice":false,"zero":false},"axis":null},"y":{"field":"i","type":"quantitative","scale":{"domain":[0,124],"nice":false,"zero":false},"axis":null}}},
   {"data":{"name":"dTopDot"},"mark":{"type":"rule","color":"#33dd33","strokeWidth":1.5,"strokeDash":[2,2]},"encoding":{"x":{"field":"e","type":"quantitative","scale":{"domain":[526.55,534],"reverse":true,"nice":false,"zero":false},"axis":null},"y":{"field":"i","type":"quantitative","scale":{"domain":[0,124],"nice":false,"zero":false},"axis":null},"y2":{"field":"i2"}}},
   {"data":{"name":"dTopL"},"mark":{"type":"text","align":"left","baseline":"middle","fontSize":12.5},"encoding":{"x":{"field":"e","type":"quantitative","scale":{"domain":[526.55,534],"reverse":true,"nice":false,"zero":false},"axis":null},"y":{"field":"i","type":"quantitative","scale":{"domain":[0,124],"nice":false,"zero":false},"axis":null},"text":{"field":"t"}}},
   {"data":{"name":"dTopI"},"mark":{"type":"text","align":"left","baseline":"middle","fontSize":12.5,"fontStyle":"italic"},"encoding":{"x":{"field":"e","type":"quantitative","scale":{"domain":[526.55,534],"reverse":true,"nice":false,"zero":false},"axis":null},"y":{"field":"i","type":"quantitative","scale":{"domain":[0,124],"nice":false,"zero":false},"axis":null},"text":{"field":"t"}}},
   {"data":{"name":"dTopC"},"mark":{"type":"text","align":"center","baseline":"middle","fontSize":12.5},"encoding":{"x":{"field":"e","type":"quantitative","scale":{"domain":[526.55,534],"reverse":true,"nice":false,"zero":false},"axis":null},"y":{"field":"i","type":"quantitative","scale":{"domain":[0,124],"nice":false,"zero":false},"axis":null},"text":{"field":"t"}}}
  ]},
  {"width":193,"height":145,"resolve":{"axis":{"x":"independent","y":"independent"}},"layer":[
   {"data":{"name":"dBotCu"},"mark":{"type":"area","color":"#f2a94f","opacity":1,"interpolate":"monotone"},
    "encoding":{"x":{"field":"e","type":"quantitative","scale":{"domain":[526.55,534],"reverse":true,"nice":false,"zero":false},"axis":{"orient":"bottom","title":"Binding energy (eV)","format":"d","values":[527,528,529,530,531,532,533,534],"labelExpr":"datum.value % 2 === 0 ? datum.label : ''","tickSize":{"condition":{"test":"datum.value % 2 === 0","value":-6},"value":-3}}},
     "y":{"field":"i","type":"quantitative","scale":{"domain":[0,145],"nice":false,"zero":false},"axis":null},"y2":{"field":"b"}}},
   {"data":{"name":"dBotNd"},"mark":{"type":"area","color":"#6ee04a","opacity":0.72,"interpolate":"monotone"},"encoding":{"x":{"field":"e","type":"quantitative","scale":{"domain":[526.55,534],"reverse":true,"nice":false,"zero":false},"axis":null},"y":{"field":"i","type":"quantitative","scale":{"domain":[0,145],"nice":false,"zero":false},"axis":null},"y2":{"field":"b"}}},
   {"data":{"name":"dBotCu"},"mark":{"type":"line","color":"#c27a2c","strokeWidth":1,"interpolate":"monotone"},"encoding":{"x":{"field":"e","type":"quantitative","scale":{"domain":[526.55,534],"reverse":true,"nice":false,"zero":false},"axis":null},"y":{"field":"i","type":"quantitative","scale":{"domain":[0,145],"nice":false,"zero":false},"axis":null}}},
   {"data":{"name":"dBotNd"},"mark":{"type":"line","color":"#3fbf22","strokeWidth":1,"interpolate":"monotone"},"encoding":{"x":{"field":"e","type":"quantitative","scale":{"domain":[526.55,534],"reverse":true,"nice":false,"zero":false},"axis":null},"y":{"field":"i","type":"quantitative","scale":{"domain":[0,145],"nice":false,"zero":false},"axis":null}}},
   {"data":{"name":"dBotBg"},"mark":{"type":"line","color":"#444","strokeWidth":1.2,"interpolate":"monotone"},"encoding":{"x":{"field":"e","type":"quantitative","scale":{"domain":[526.55,534],"reverse":true,"nice":false,"zero":false},"axis":null},"y":{"field":"i","type":"quantitative","scale":{"domain":[0,145],"nice":false,"zero":false},"axis":null}}},
   {"data":{"name":"dBotEnv"},"mark":{"type":"line","color":"#ee1c1c","strokeWidth":3.5,"interpolate":"monotone"},"encoding":{"x":{"field":"e","type":"quantitative","scale":{"domain":[526.55,534],"reverse":true,"nice":false,"zero":false},"axis":null},"y":{"field":"i","type":"quantitative","scale":{"domain":[0,145],"nice":false,"zero":false},"axis":null}}},
   {"data":{"name":"dBotEnv"},"mark":{"type":"line","color":"#555","strokeWidth":1,"interpolate":"monotone"},"encoding":{"x":{"field":"e","type":"quantitative","scale":{"domain":[526.55,534],"reverse":true,"nice":false,"zero":false},"axis":null},"y":{"field":"i","type":"quantitative","scale":{"domain":[0,145],"nice":false,"zero":false},"axis":null}}},
   {"data":{"name":"dBotDot"},"mark":{"type":"rule","color":"#33dd33","strokeWidth":1.5,"strokeDash":[2,2]},"encoding":{"x":{"field":"e","type":"quantitative","scale":{"domain":[526.55,534],"reverse":true,"nice":false,"zero":false},"axis":null},"y":{"field":"i","type":"quantitative","scale":{"domain":[0,145],"nice":false,"zero":false},"axis":null},"y2":{"field":"i2"}}},
   {"data":{"name":"dBotShaft"},"mark":{"type":"rule","color":"#000","strokeWidth":1.2},"encoding":{"x":{"field":"e","type":"quantitative","scale":{"domain":[526.55,534],"reverse":true,"nice":false,"zero":false},"axis":null},"x2":{"field":"e2"},"y":{"field":"i","type":"quantitative","scale":{"domain":[0,145],"nice":false,"zero":false},"axis":null}}},
   {"data":{"name":"dBotHeadR"},"mark":{"type":"point","shape":"triangle-right","filled":true,"size":40,"color":"#000","opacity":1},"encoding":{"x":{"field":"e","type":"quantitative","scale":{"domain":[526.55,534],"reverse":true,"nice":false,"zero":false},"axis":null},"y":{"field":"i","type":"quantitative","scale":{"domain":[0,145],"nice":false,"zero":false},"axis":null}}},
   {"data":{"name":"dBotHeadL"},"mark":{"type":"point","shape":"triangle-left","filled":true,"size":40,"color":"#000","opacity":1},"encoding":{"x":{"field":"e","type":"quantitative","scale":{"domain":[526.55,534],"reverse":true,"nice":false,"zero":false},"axis":null},"y":{"field":"i","type":"quantitative","scale":{"domain":[0,145],"nice":false,"zero":false},"axis":null}}},
   {"data":{"name":"dBotR"},"mark":{"type":"text","align":"right","baseline":"middle","fontSize":12.5},"encoding":{"x":{"field":"e","type":"quantitative","scale":{"domain":[526.55,534],"reverse":true,"nice":false,"zero":false},"axis":null},"y":{"field":"i","type":"quantitative","scale":{"domain":[0,145],"nice":false,"zero":false},"axis":null},"text":{"field":"t"}}},
   {"data":{"name":"dBotC"},"mark":{"type":"text","align":"center","baseline":"middle","fontSize":12.5},"encoding":{"x":{"field":"e","type":"quantitative","scale":{"domain":[526.55,534],"reverse":true,"nice":false,"zero":false},"axis":null},"y":{"field":"i","type":"quantitative","scale":{"domain":[0,145],"nice":false,"zero":false},"axis":null},"text":{"field":"t"}}},
   {"data":{"name":"dBotL"},"mark":{"type":"text","align":"left","baseline":"middle","fontSize":12.5},"encoding":{"x":{"field":"e","type":"quantitative","scale":{"domain":[526.55,534],"reverse":true,"nice":false,"zero":false},"axis":null},"y":{"field":"i","type":"quantitative","scale":{"domain":[0,145],"nice":false,"zero":false},"axis":null},"text":{"field":"t"}}},
   {"data":{"name":"dBotI"},"mark":{"type":"text","align":"left","baseline":"middle","fontSize":12.5,"fontStyle":"italic"},"encoding":{"x":{"field":"e","type":"quantitative","scale":{"domain":[526.55,534],"reverse":true,"nice":false,"zero":false},"axis":null},"y":{"field":"i","type":"quantitative","scale":{"domain":[0,145],"nice":false,"zero":false},"axis":null},"text":{"field":"t"}}}
  ]}
 ],"spacing":0,"bounds":"flush","resolve":{"scale":{"x":"independent","y":"independent"}}},
 {"width":193,"height":269,"resolve":{"scale":{"color":"independent"},"axis":{"x":"independent"}},"layer":[
  {"data":{"name":"eInsetRect"},"mark":{"type":"rect","fill":"white","stroke":"#222","strokeWidth":1},
   "encoding":{"x":{"field":"e","type":"quantitative","scale":{"domain":[-0.93,8],"reverse":true,"nice":false,"zero":false},"axis":{"orient":"bottom","title":"Binding Energy (eV)","titlePadding":2.5,"format":"d","values":[8,6,4,2,0],"tickSize":{"condition":{"test":"datum.value % 2 === 0","value":-6},"value":-3}}},"x2":{"field":"e2"},
    "y":{"field":"i","type":"quantitative","scale":{"domain":[0,269],"nice":false,"zero":false},"axis":null},"y2":{"field":"i2"}}},
  {"data":{"name":"eZero"},"mark":{"type":"rule","color":"#9a9a9a","strokeWidth":1,"strokeDash":[1.5,2]},"encoding":{"x":{"field":"e","type":"quantitative","scale":{"domain":[-0.93,8],"reverse":true,"nice":false,"zero":false},"axis":{"orient":"top","title":null,"labels":false,"values":[8,6,4,2,0],"tickSize":{"condition":{"test":"datum.value % 2 === 0","value":-6},"value":-3}}},"y":{"field":"i","type":"quantitative","scale":{"domain":[0,269],"nice":false,"zero":false},"axis":null},"y2":{"field":"i2"}}},
  {"layer":[
   {"data":{"name":"eMain"},"transform":[{"filter":"datum.x === '0'"}],"mark":{"type":"line","strokeWidth":1.4},"encoding":{"x":{"field":"e","type":"quantitative","scale":{"domain":[-0.93,8],"reverse":true,"nice":false,"zero":false},"axis":null},"y":{"field":"i","type":"quantitative","scale":{"domain":[0,269],"nice":false,"zero":false},"axis":null},
    "color":{"field":"s","type":"nominal","scale":{"domain":["As-grown (Non-SC)","Weakly annealed (Non-SC)","Annealed (SC)"],"range":["#2a46e6","#e040e8","#ee1c1c"]},"legend":{"title":"x = 0","orient":"right","offset":-1,"padding":3,"titleFontSize":11.5,"titleFontWeight":"normal","titlePadding":5,"labelFontSize":11,"symbolType":"stroke","symbolSize":121,"symbolStrokeWidth":2,"symbolOffset":5,"labelOffset":4,"rowPadding":5,"labelExpr":"datum.label == 'Weakly annealed (Non-SC)' ? ['Weakly','annealed','(Non-SC)'] : split(replace(datum.label, ' (', '|('), '|')"}}}},
   {"data":{"name":"eInset"},"transform":[{"filter":"datum.x === '0'"}],"mark":{"type":"line","strokeWidth":1},"encoding":{"x":{"field":"e","type":"quantitative","scale":{"domain":[-0.93,8],"reverse":true,"nice":false,"zero":false},"axis":null},"y":{"field":"i","type":"quantitative","scale":{"domain":[0,269],"nice":false,"zero":false},"axis":null},"detail":{"field":"n"},
    "color":{"field":"s","type":"nominal","scale":{"domain":["As-grown (Non-SC)","Weakly annealed (Non-SC)","Annealed (SC)"],"range":["#2a46e6","#e040e8","#ee1c1c"]},"legend":{"title":"x = 0","orient":"right","offset":-1,"padding":3,"titleFontSize":11.5,"titleFontWeight":"normal","titlePadding":5,"labelFontSize":11,"symbolType":"stroke","symbolSize":121,"symbolStrokeWidth":2,"symbolOffset":5,"labelOffset":4,"rowPadding":5,"labelExpr":"datum.label == 'Weakly annealed (Non-SC)' ? ['Weakly','annealed','(Non-SC)'] : split(replace(datum.label, ' (', '|('), '|')"}}}}
  ]},
  {"layer":[
   {"data":{"name":"eMain"},"transform":[{"filter":"datum.x === '0.15'"}],"mark":{"type":"line","strokeWidth":1.4},"encoding":{"x":{"field":"e","type":"quantitative","scale":{"domain":[-0.93,8],"reverse":true,"nice":false,"zero":false},"axis":null},"y":{"field":"i","type":"quantitative","scale":{"domain":[0,269],"nice":false,"zero":false},"axis":null},
    "color":{"field":"s","type":"nominal","scale":{"domain":["Oxidized (Non-SC)","SC"],"range":["#7be03c","#1e7a1e"]},"legend":{"title":"x = 0.15","orient":"right","offset":-1,"padding":3,"titleFontSize":11.5,"titleFontWeight":"normal","titlePadding":5,"labelFontSize":11,"symbolType":"stroke","symbolSize":121,"symbolStrokeWidth":2,"symbolOffset":5,"labelOffset":4,"rowPadding":5,"labelExpr":"split(replace(datum.label, ' (', '|('), '|')"}}}},
   {"data":{"name":"eInset"},"transform":[{"filter":"datum.x === '0.15'"}],"mark":{"type":"line","strokeWidth":1},"encoding":{"x":{"field":"e","type":"quantitative","scale":{"domain":[-0.93,8],"reverse":true,"nice":false,"zero":false},"axis":null},"y":{"field":"i","type":"quantitative","scale":{"domain":[0,269],"nice":false,"zero":false},"axis":null},"detail":{"field":"n"},
    "color":{"field":"s","type":"nominal","scale":{"domain":["Oxidized (Non-SC)","SC"],"range":["#7be03c","#1e7a1e"]},"legend":{"title":"x = 0.15","orient":"right","offset":-1,"padding":3,"titleFontSize":11.5,"titleFontWeight":"normal","titlePadding":5,"labelFontSize":11,"symbolType":"stroke","symbolSize":121,"symbolStrokeWidth":2,"symbolOffset":5,"labelOffset":4,"rowPadding":5,"labelExpr":"split(replace(datum.label, ' (', '|('), '|')"}}}}
  ]},
  {"layer":[
   {"data":{"name":"eMain"},"transform":[{"filter":"datum.x === '0.19'"}],"mark":{"type":"line","strokeWidth":1.4},"encoding":{"x":{"field":"e","type":"quantitative","scale":{"domain":[-0.93,8],"reverse":true,"nice":false,"zero":false},"axis":null},"y":{"field":"i","type":"quantitative","scale":{"domain":[0,269],"nice":false,"zero":false},"axis":null},
    "color":{"field":"s","type":"nominal","scale":{"domain":["Oxidized (Non-SC)","SC"],"range":["#e8901c","#1a1a1a"]},"legend":{"title":"x = 0.19","orient":"right","offset":-1,"padding":3,"titleFontSize":11.5,"titleFontWeight":"normal","titlePadding":5,"labelFontSize":11,"symbolType":"stroke","symbolSize":121,"symbolStrokeWidth":2,"symbolOffset":5,"labelOffset":4,"rowPadding":5,"labelExpr":"split(replace(datum.label, ' (', '|('), '|')"}}}},
   {"data":{"name":"eInset"},"transform":[{"filter":"datum.x === '0.19'"}],"mark":{"type":"line","strokeWidth":1},"encoding":{"x":{"field":"e","type":"quantitative","scale":{"domain":[-0.93,8],"reverse":true,"nice":false,"zero":false},"axis":null},"y":{"field":"i","type":"quantitative","scale":{"domain":[0,269],"nice":false,"zero":false},"axis":null},"detail":{"field":"n"},
    "color":{"field":"s","type":"nominal","scale":{"domain":["Oxidized (Non-SC)","SC"],"range":["#e8901c","#1a1a1a"]},"legend":{"title":"x = 0.19","orient":"right","offset":-1,"padding":3,"titleFontSize":11.5,"titleFontWeight":"normal","titlePadding":5,"labelFontSize":11,"symbolType":"stroke","symbolSize":121,"symbolStrokeWidth":2,"symbolOffset":5,"labelOffset":4,"rowPadding":5,"labelExpr":"split(replace(datum.label, ' (', '|('), '|')"}}}}
  ]},
  {"data":{"name":"eMain"},"transform":[{"filter":"datum.x === '0' && datum.s === 'Annealed (SC)'"}],"mark":{"type":"line","strokeWidth":2,"color":"#ee1c1c"},"encoding":{"x":{"field":"e","type":"quantitative","scale":{"domain":[-0.93,8],"reverse":true,"nice":false,"zero":false},"axis":null},"y":{"field":"i","type":"quantitative","scale":{"domain":[0,269],"nice":false,"zero":false},"axis":null}}},
  {"data":{"name":"eBox"},"mark":{"type":"rect","fillOpacity":0,"stroke":"#222","strokeWidth":1.2},"encoding":{"x":{"field":"e","type":"quantitative","scale":{"domain":[-0.93,8],"reverse":true,"nice":false,"zero":false},"axis":null},"x2":{"field":"e2"},"y":{"field":"i","type":"quantitative","scale":{"domain":[0,269],"nice":false,"zero":false},"axis":null},"y2":{"field":"i2"}}},
  {"data":{"name":"eConn"},"mark":{"type":"rule","color":"#222","strokeWidth":1},"encoding":{"x":{"field":"e","type":"quantitative","scale":{"domain":[-0.93,8],"reverse":true,"nice":false,"zero":false},"axis":null},"x2":{"field":"e2"},"y":{"field":"i","type":"quantitative","scale":{"domain":[0,269],"nice":false,"zero":false},"axis":null},"y2":{"field":"i2"}}},
  {"data":{"name":"eInsetZero"},"mark":{"type":"rule","color":"#555","strokeWidth":1.2},"encoding":{"x":{"field":"e","type":"quantitative","scale":{"domain":[-0.93,8],"reverse":true,"nice":false,"zero":false},"axis":null},"y":{"field":"i","type":"quantitative","scale":{"domain":[0,269],"nice":false,"zero":false},"axis":null},"y2":{"field":"i2"}}},
  {"data":{"name":"eL"},"mark":{"type":"text","align":"left","baseline":"middle","fontSize":12.5},"encoding":{"x":{"field":"e","type":"quantitative","scale":{"domain":[-0.93,8],"reverse":true,"nice":false,"zero":false},"axis":null},"y":{"field":"i","type":"quantitative","scale":{"domain":[0,269],"nice":false,"zero":false},"axis":null},"text":{"field":"t"}}},
  {"data":{"name":"eTick"},"mark":{"type":"text","align":"center","baseline":"middle","fontSize":9.5},"encoding":{"x":{"field":"e","type":"quantitative","scale":{"domain":[-0.93,8],"reverse":true,"nice":false,"zero":false},"axis":null},"y":{"field":"i","type":"quantitative","scale":{"domain":[0,269],"nice":false,"zero":false},"axis":null},"text":{"field":"t"}}}
 ]}
 ],"spacing":2,"resolve":{"scale":{"x":"independent","y":"independent","color":"independent"}}}
 ],"spacing":-7,"resolve":{"scale":{"x":"independent","y":"independent","color":"independent"}}}
]
}
